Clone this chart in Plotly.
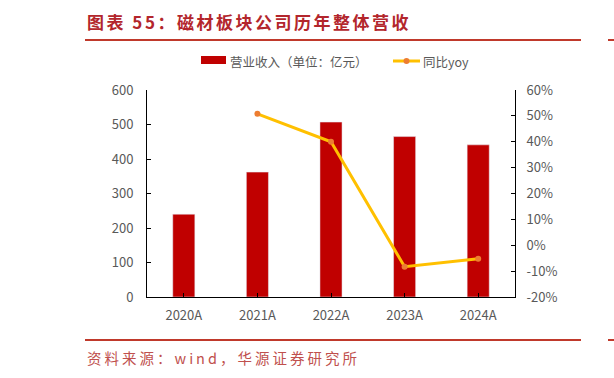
import plotly.graph_objects as go

categories = ["2020A", "2021A", "2022A", "2023A", "2024A"]
revenue = [240, 362, 507, 465, 441]
yoy = [None, 50.8, 40.0, -8.3, -5.2]
left_ticks = [0, 100, 200, 300, 400, 500, 600]
right_ticks = [-20, -10, 0, 10, 20, 30, 40, 50, 60]
right_labels = [f"{v}%" for v in right_ticks]

W, H = 614, 378
L, R, T, B = 147, 515, 90, 297
PW, PH = R - L, B - T

def px(x):
    return (x - L) / PW

def py(y):
    return (B - y) / PH

RED = "#C00000"
TXT_RED = "#B3262C"
SRC_RED = "#C0504D"
GREY = "#595959"
FONT = "Noto Sans CJK SC"

fig = go.Figure()
fig.add_trace(go.Bar(x=categories, y=revenue, marker_color=RED, width=0.30,
                     name="营业收入（单位：亿元）", yaxis="y"))
fig.add_trace(go.Scatter(x=categories, y=yoy, mode="lines+markers", name="同比yoy",
                         line=dict(color="#FFC000", width=3),
                         marker=dict(color="#ED7D31", size=6), yaxis="y2"))

axis_common = dict(showgrid=False, zeroline=False, showline=True, linecolor="black",
                   linewidth=1, ticks="inside", ticklen=4, tickcolor="black",
                   tickfont=dict(family=FONT, size=13, color=GREY))

fig.update_layout(
    width=W, height=H, showlegend=False,
    margin=dict(l=L, r=W - R, t=T, b=H - B),
    plot_bgcolor="white", paper_bgcolor="white",
    xaxis=dict(**axis_common, type="category", ticklabelstandoff=6),
    yaxis=dict(**axis_common, range=[0, 600], tickvals=left_ticks, ticklabelstandoff=10),
    yaxis2=dict(**axis_common, overlaying="y", side="right", range=[-20, 60],
                tickvals=right_ticks, ticktext=right_labels, ticklabelstandoff=8),
    font=dict(family=FONT),
)

line_col = "#C0392B"
shapes = [
    dict(type="line", xref="paper", yref="paper", x0=px(85), x1=px(581), y0=py(40), y1=py(40),
         line=dict(color=line_col, width=2)),
    dict(type="line", xref="paper", yref="paper", x0=px(85), x1=px(581), y0=py(340), y1=py(340),
         line=dict(color=line_col, width=2)),
    dict(type="line", xref="paper", yref="paper", x0=px(608), x1=px(614), y0=py(40), y1=py(40),
         line=dict(color=line_col, width=2)),
    dict(type="line", xref="paper", yref="paper", x0=px(608), x1=px(614), y0=py(340), y1=py(340),
         line=dict(color=line_col, width=2)),
    dict(type="rect", xref="paper", yref="paper", x0=px(201), x1=px(226), y0=py(64), y1=py(56),
         fillcolor=RED, line=dict(width=0)),
    dict(type="line", xref="paper", yref="paper", x0=px(393), x1=px(420), y0=py(61), y1=py(61),
         line=dict(color="#FFC000", width=3)),
    dict(type="circle", xref="paper", yref="paper", x0=px(403.5), x1=px(409.5), y0=py(64), y1=py(58),
         fillcolor="#ED7D31", line=dict(width=0)),
]
fig.update_layout(shapes=shapes)

annotations = [
    dict(text="<b><span style='letter-spacing:2.5px'>图表 55：磁材板块公司历年整体营收</span></b>",
         xref="paper", yref="paper",
         x=px(85), y=py(21), xanchor="left", yanchor="middle", showarrow=False,
         font=dict(family=FONT, size=17, color=TXT_RED)),
    dict(text="<span style='letter-spacing:3px'>资料来源：wind，华源证券研究所</span>",
         xref="paper", yref="paper",
         x=px(85), y=py(357), xanchor="left", yanchor="middle", showarrow=False,
         font=dict(family=FONT, size=14.5, color=SRC_RED)),
    dict(text="营业收入（单位：亿元）", xref="paper", yref="paper",
         x=px(228), y=py(61), xanchor="left", yanchor="middle", showarrow=False,
         font=dict(family=FONT, size=12.5, color=GREY)),
    dict(text="同比yoy", xref="paper", yref="paper",
         x=px(421), y=py(61), xanchor="left", yanchor="middle", showarrow=False,
         font=dict(family=FONT, size=12.5, color=GREY)),
]
fig.update_layout(annotations=annotations)

fig.write_html("out.html", config={"displayModeBar": False},
               post_script="document.body.style.margin='0';")
